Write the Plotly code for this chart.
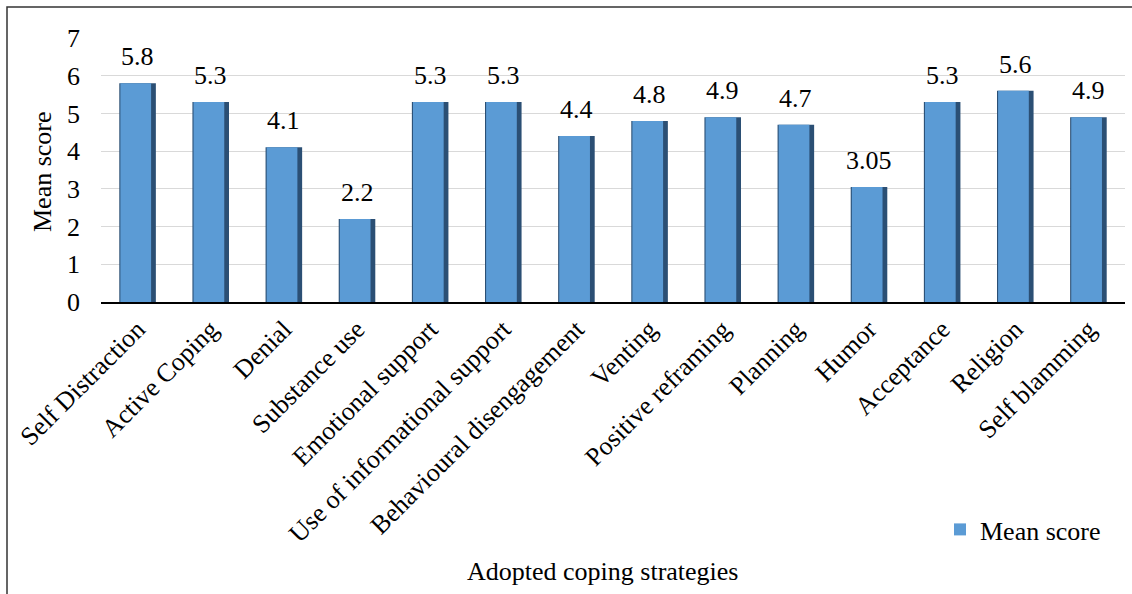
import plotly.graph_objects as go

# Coping strategy categories and their mean scores
strategies = [
    "Self Distraction", "Active Coping", "Denial", "Substance use",
    "Emotional support", "Use of informational support",
    "Behavioural disengagement", "Venting", "Positive reframing",
    "Planning", "Humor", "Acceptance", "Religion", "Self blamming",
]
mean_scores = [5.8, 5.3, 4.1, 2.2, 5.3, 5.3, 4.4, 4.8, 4.9, 4.7, 3.05, 5.3, 5.6, 4.9]
score_labels = ["5.8", "5.3", "4.1", "2.2", "5.3", "5.3", "4.4", "4.8", "4.9",
                "4.7", "3.05", "5.3", "5.6", "4.9"]
y_ticks = [0, 1, 2, 3, 4, 5, 6, 7]

FONT = "'Liberation Serif', 'Times New Roman', serif"
W, H = 1132, 594
L, R, T, B = 101, 7, 38, 292
pw, ph = W - L - R, H - T - B


def px_x(x):
    return (x - L) / pw


def px_y(y):
    return (H - B - y) / ph


fig = go.Figure()

# dark shell of each bar (gives shaded right edge)
fig.add_trace(go.Bar(
    x=strategies, y=mean_scores, width=0.5, offset=-0.25,
    marker=dict(color="#2B4F74", line=dict(width=0)),
    showlegend=False, hoverinfo="skip",
))
# main blue face
fig.add_trace(go.Bar(
    x=strategies, y=mean_scores, width=0.42, offset=-0.235,
    marker=dict(color="#5B9BD5", line=dict(width=0)),
    name="Mean score", showlegend=True,
))

# value labels above bars
for cat, v, lab in zip(strategies, mean_scores, score_labels):
    fig.add_annotation(x=cat, y=v, text=lab, showarrow=False,
                       xanchor="center", yanchor="bottom", yshift=10,
                       font=dict(family=FONT, size=26, color="#000000"))

# axis titles
fig.add_annotation(xref="paper", yref="paper", x=px_x(603), y=px_y(571),
                   xanchor="center", yanchor="middle",
                   text="Adopted coping strategies", showarrow=False,
                   font=dict(family=FONT, size=26, color="#000000"))
fig.add_annotation(xref="paper", yref="paper", x=px_x(42), y=px_y(172),
                   xanchor="center", yanchor="middle",
                   text="Mean score", showarrow=False, textangle=-90,
                   font=dict(family=FONT, size=26, color="#000000"))

# outer frame
fig.add_shape(type="path", xref="paper", yref="paper",
              path=f"M {px_x(7)} {px_y(600)} L {px_x(7)} {px_y(7)} L {px_x(1140)} {px_y(7)}",
              line=dict(color="#333333", width=1.5))

fig.update_layout(
    width=W, height=H,
    margin=dict(l=L, r=R, t=T, b=B),
    paper_bgcolor="white", plot_bgcolor="white",
    barmode="overlay",
    font=dict(family=FONT, size=26, color="#000000"),
    showlegend=True,
    legend=dict(x=px_x(940), y=px_y(506), xanchor="left", yanchor="top",
                bgcolor="rgba(0,0,0,0)", font=dict(family=FONT, size=26)),
    xaxis=dict(tickangle=-45, tickfont=dict(family=FONT, size=26),
               showline=True, linecolor="#000000", linewidth=1.5,
               ticks="", showgrid=False),
    yaxis=dict(range=[0, 7], tickvals=y_ticks, showgrid=True,
               gridcolor="#D9D9D9", gridwidth=1, zeroline=False,
               showline=False, ticks="", ticklabelstandoff=20,
               tickfont=dict(family=FONT, size=26)),
)

fig.write_html("out.html")
